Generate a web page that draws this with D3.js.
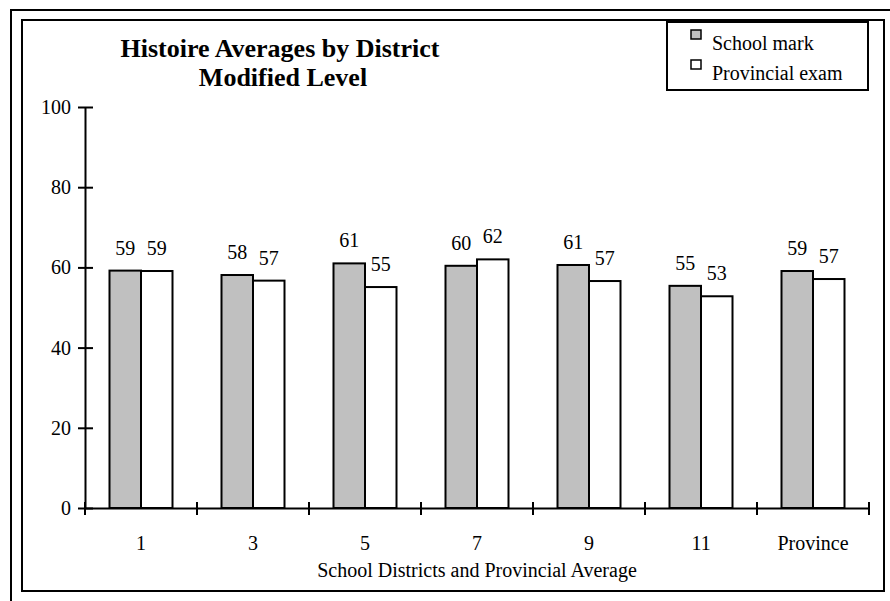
<!DOCTYPE html>
<html>
<head>
<meta charset="utf-8">
<script src="https://cdn.jsdelivr.net/npm/d3@7"></script>
<style>
  body { margin: 0; background: #fff; }
</style>
</head>
<body>
<div id="chart"></div>
<script>
// data
var districts = ["1", "3", "5", "7", "9", "11", "Province"];
var seriesNames = ["School mark", "Provincial exam"];
var schoolMark = [59.2, 58.1, 61.0, 60.4, 60.6, 55.4, 59.1];
var provincialExam = [59.1, 56.7, 55.1, 62.0, 56.6, 52.8, 57.1];
var yTicks = [0, 20, 40, 60, 80, 100];

var colors = {"School mark": "#c0c0c0", "Provincial exam": "#ffffff"};
var FONT = "'Liberation Serif', 'Times New Roman', Times, 'DejaVu Serif', serif";

var W = 890, H = 601;
var svg = d3.select("#chart").append("svg")
    .attr("width", W)
    .attr("height", H);

// double frame
svg.append("rect")
    .attr("x", 11).attr("y", 10)
    .attr("width", 900).attr("height", 700)
    .attr("fill", "none").attr("stroke", "#000").attr("stroke-width", 2);
svg.append("rect")
    .attr("x", 22).attr("y", 20)
    .attr("width", 862).attr("height", 571)
    .attr("fill", "#fff").attr("stroke", "#000").attr("stroke-width", 2);

var x0 = d3.scaleBand()
    .domain(districts)
    .range([85, 869])
    .paddingInner(0.4375)
    .paddingOuter(0.21875);

var x1 = d3.scaleBand()
    .domain(seriesNames)
    .range([0, x0.bandwidth()]);

var y = d3.scaleLinear()
    .domain([0, 100])
    .range([508, 107]);

var rows = districts.map(function(d, i) {
    return {cat: d, vals: [
        {name: seriesNames[0], v: schoolMark[i]},
        {name: seriesNames[1], v: provincialExam[i]}
    ]};
});

var groups = svg.selectAll(".grp")
    .data(rows)
  .enter().append("g")
    .attr("class", "grp")
    .attr("transform", function(d) { return "translate(" + x0(d.cat) + ",0)"; });

groups.selectAll("rect")
    .data(function(d) { return d.vals; })
  .enter().append("rect")
    .attr("x", function(d) { return x1(d.name); })
    .attr("y", function(d) { return y(d.v); })
    .attr("width", x1.bandwidth())
    .attr("height", function(d) { return y(0) - y(d.v); })
    .attr("fill", function(d) { return colors[d.name]; })
    .attr("stroke", "#000")
    .attr("stroke-width", 2);

groups.selectAll(".lbl")
    .data(function(d) { return d.vals; })
  .enter().append("text")
    .attr("class", "lbl")
    .attr("x", function(d) { return x1(d.name) + x1.bandwidth() / 2; })
    .attr("y", function(d) { return y(d.v) - 16; })
    .attr("text-anchor", "middle")
    .style("font-family", FONT)
    .style("font-size", "20px")
    .text(function(d) { return Math.round(d.v); });

// y axis
var yAxis = svg.append("g")
    .attr("transform", "translate(85,0)")
    .call(d3.axisLeft(y).tickValues(yTicks).tickSize(0).tickPadding(14));
yAxis.select(".domain").attr("stroke", "#000").attr("stroke-width", 2);
yAxis.selectAll(".tick text")
    .style("font-family", FONT).style("font-size", "20px").attr("fill", "#000");
yAxis.selectAll(".tick").append("line")
    .attr("x1", -7).attr("x2", 8)
    .attr("stroke", "#000").attr("stroke-width", 2);

// x axis: ticks at band boundaries
var xAxis = svg.append("g")
    .attr("transform", "translate(0," + y(0) + ")")
    .call(d3.axisBottom(x0).tickSize(0).tickPadding(28).tickSizeOuter(0));
xAxis.select(".domain").attr("stroke", "#000").attr("stroke-width", 2);
xAxis.selectAll(".tick text")
    .style("font-family", FONT).style("font-size", "20px").attr("fill", "#000");
var edges = districts.map(function(d) { return x0(d) - x0.step() * x0.paddingInner() / 2; })
    .concat([x0.range()[1]]);
xAxis.selectAll(".edge")
    .data(edges)
  .enter().append("line")
    .attr("class", "edge")
    .attr("x1", function(d) { return d; }).attr("x2", function(d) { return d; })
    .attr("y1", -6).attr("y2", 7)
    .attr("stroke", "#000").attr("stroke-width", 2);

svg.append("text")
    .attr("x", 477).attr("y", 577)
    .attr("text-anchor", "middle")
    .style("font-family", FONT).style("font-size", "20px")
    .text("School Districts and Provincial Average");

// title
svg.append("text")
    .attr("x", 280).attr("y", 57)
    .attr("text-anchor", "middle")
    .style("font-family", FONT).style("font-size", "26px").style("font-weight", "bold")
    .text("Histoire Averages by District");
svg.append("text")
    .attr("x", 283).attr("y", 86)
    .attr("text-anchor", "middle")
    .style("font-family", FONT).style("font-size", "26px").style("font-weight", "bold")
    .text("Modified Level");

// legend
var legend = svg.append("g").attr("transform", "translate(667,22)");
legend.append("rect")
    .attr("width", 201).attr("height", 68)
    .attr("fill", "#fff").attr("stroke", "#000").attr("stroke-width", 2);
var items = legend.selectAll(".item")
    .data(seriesNames)
  .enter().append("g")
    .attr("class", "item")
    .attr("transform", function(d, i) { return "translate(24," + (8 + i * 30) + ")"; });
items.append("rect")
    .attr("width", 10).attr("height", 9)
    .attr("fill", function(d) { return colors[d]; })
    .attr("stroke", "#000").attr("stroke-width", 1.5);
items.append("text")
    .attr("x", 21).attr("y", 20)
    .style("font-family", FONT).style("font-size", "20px")
    .text(function(d) { return d; });
</script>
</body>
</html>
